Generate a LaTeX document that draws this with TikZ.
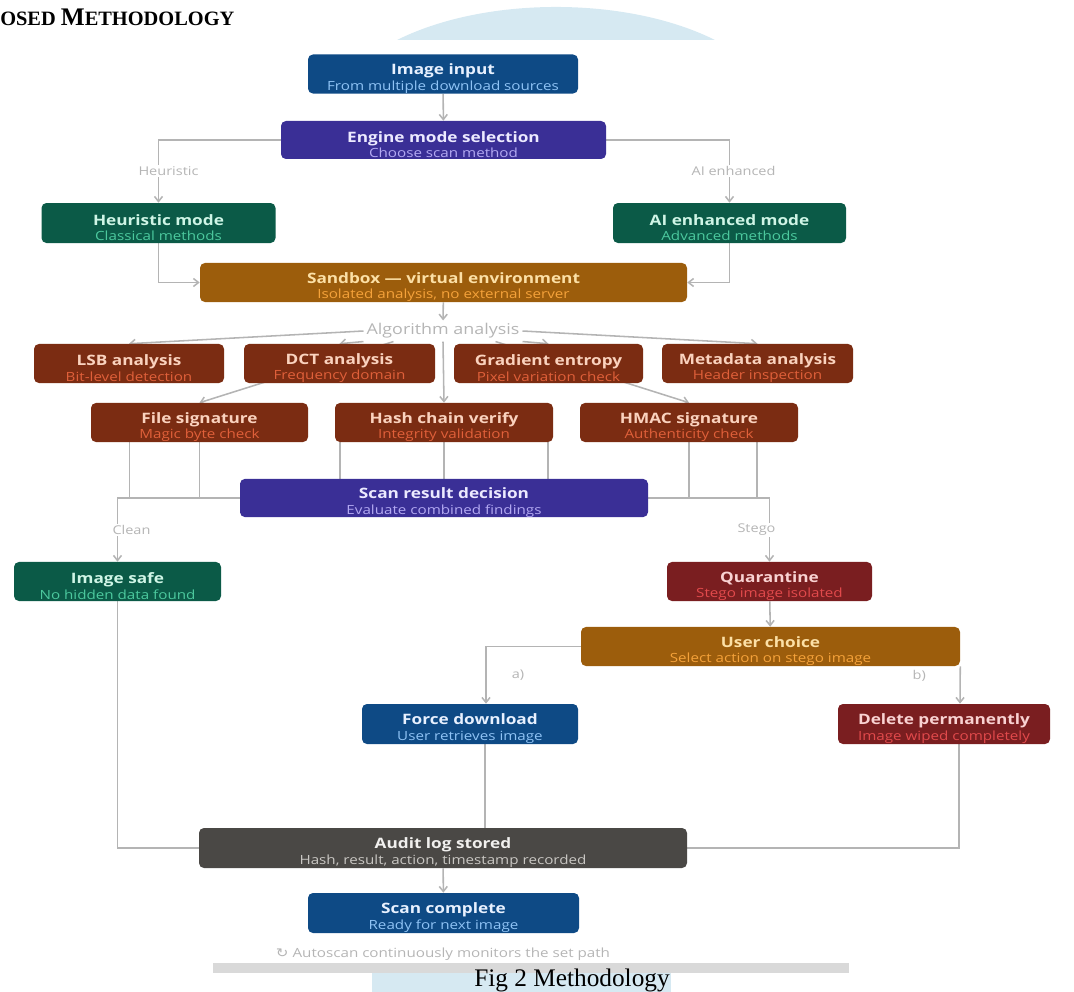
\documentclass[tikz,border=0pt]{standalone}
\usepackage{fontspec}
\usepackage{graphicx}
\setmainfont{Open Sans}
\newfontfamily\serif{Liberation Serif}
\newfontfamily\symfont{DejaVu Sans}
\usetikzlibrary{arrows.meta, backgrounds}

\newdimen\pxu \pxu=0.025cm
\newcommand{\sx}{1.2}
\newcommand{\ttl}[1]{\rule{0pt}{14pt}\scalebox{\sx}[1]{\fontsize{10.2}{10}\selectfont\bfseries #1}}
\newcommand{\subtxt}[2]{\scalebox{\sx}[1]{\color{#1}#2}}

\definecolor{boxblue}{HTML}{0E4A85}
\definecolor{ttlblue}{HTML}{E8F1FF}
\definecolor{subblue}{HTML}{8FC3F5}
\definecolor{boxpurple}{HTML}{3A2F96}
\definecolor{ttlpurple}{HTML}{ECEAFF}
\definecolor{subpurple}{HTML}{B3A9F2}
\definecolor{boxgreen}{HTML}{0B5A47}
\definecolor{ttlgreen}{HTML}{CFF5E6}
\definecolor{subgreen}{HTML}{4CC99E}
\definecolor{boxorange}{HTML}{9C5D0C}
\definecolor{ttlorange}{HTML}{FCE0A6}
\definecolor{suborange}{HTML}{F5A23A}
\definecolor{boxrust}{HTML}{7B2C12}
\definecolor{ttlrust}{HTML}{FAD2BE}
\definecolor{subrust}{HTML}{E0603A}
\definecolor{boxred}{HTML}{7A1E20}
\definecolor{ttlred}{HTML}{F9D2D2}
\definecolor{subred}{HTML}{E24A4C}
\definecolor{boxgray}{HTML}{4A4845}
\definecolor{ttlgray}{HTML}{F1F0EE}
\definecolor{subgray}{HTML}{C9C7C3}
\definecolor{linegray}{HTML}{B4B4B4}
\definecolor{lblgray}{HTML}{B5B5B5}
\definecolor{pageblue}{HTML}{D6E9F2}
\definecolor{bargray}{HTML}{D9D9D9}

\tikzstyle{box}       = [rectangle, rounded corners=3.5pt, minimum height=0.975cm, inner sep=0pt,
                         align=center, font=\fontsize{9}{11}\selectfont]
\tikzstyle{bluebox}   = [box, fill=boxblue, text=ttlblue]
\tikzstyle{purplebox} = [box, fill=boxpurple, text=ttlpurple]
\tikzstyle{greenbox}  = [box, fill=boxgreen, text=ttlgreen]
\tikzstyle{orangebox} = [box, fill=boxorange, text=ttlorange]
\tikzstyle{rustbox}   = [box, fill=boxrust, text=ttlrust]
\tikzstyle{redbox}    = [box, fill=boxred, text=ttlred]
\tikzstyle{graybox}   = [box, fill=boxgray, text=ttlgray]
\tikzstyle{conn}      = [draw=linegray, line width=1.1pt]
\tikzstyle{arrow}     = [conn, -{Straight Barb[length=3.6pt, width=5.7pt]}]
\tikzstyle{lbl}       = [fill=white, text=lblgray, inner sep=1pt, font=\fontsize{8.6}{9}\selectfont]

\begin{document}
\begin{tikzpicture}[x=0.025cm, y=-0.025cm]
    \useasboundingbox (0,0) rectangle (1074,992);

    % page around the figure
    \begin{scope}
        \clip (300,0) rectangle (800,40);
        \fill[pageblue] (556,120) ellipse [x radius=5.625cm, y radius=2.825cm];
    \end{scope}
    \node (hdr) [anchor=base west, inner sep=0pt, font=\serif\bfseries] at (0,26)
        {\fontsize{14.5}{16}\selectfont OSED \fontsize{18}{20}\selectfont M\fontsize{14.5}{16}\selectfont ETHODOLOGY};
    \fill[bargray] (213,963) rectangle (849,973);
    \fill[pageblue] (372,973) rectangle (671,992);
    \node (fig) [anchor=base, inner sep=0pt, font=\serif\fontsize{18}{20}\selectfont] at (572,986) {Fig 2 Methodology};

    % boxes
    \node (input) [bluebox, minimum width=270\pxu] at (443,74) {\ttl{Image input}\\\subtxt{subblue}{From multiple download sources}};
    \node (engine) [purplebox, minimum width=325\pxu, minimum height=38\pxu] at (443.5,140) {\ttl{Engine mode selection}\\\subtxt{subpurple}{Choose scan method}};
    \node (heur) [greenbox, minimum width=234\pxu, minimum height=40\pxu] at (158.5,223) {\ttl{Heuristic mode}\\\subtxt{subgreen}{Classical methods}};
    \node (ai) [greenbox, minimum width=233\pxu, minimum height=40\pxu] at (729.5,223) {\ttl{AI enhanced mode}\\\subtxt{subgreen}{Advanced methods}};
    \node (sandbox) [orangebox, minimum width=487\pxu] at (443.5,282.5) {\ttl{Sandbox --- virtual environment}\\\subtxt{suborange}{Isolated analysis, no external server}};
    \node (alg) [text=lblgray, inner sep=2pt, font=\fontsize{10.6}{11}\selectfont] at (443,331) {\scalebox{\sx}[1]{Algorithm analysis}};

    \node (lsb) [rustbox, minimum width=190\pxu] at (129,363.5) {\ttl{LSB analysis}\\\subtxt{subrust}{Bit-level detection}};
    \node (dct) [rustbox, minimum width=191\pxu] at (339.5,363.5) {\ttl{DCT analysis}\\\subtxt{subrust}{Frequency domain}};
    \node (grad) [rustbox, minimum width=189\pxu] at (548.5,363.5) {\ttl{Gradient entropy}\\\subtxt{subrust}{Pixel variation check}};
    \node (meta) [rustbox, minimum width=191\pxu] at (757.5,363.5) {\ttl{Metadata analysis}\\\subtxt{subrust}{Header inspection}};
    \node (filesig) [rustbox, minimum width=217\pxu] at (199.5,422.5) {\ttl{File signature}\\\subtxt{subrust}{Magic byte check}};
    \node (hash) [rustbox, minimum width=218\pxu] at (444,422.5) {\ttl{Hash chain verify}\\\subtxt{subrust}{Integrity validation}};
    \node (hmac) [rustbox, minimum width=218\pxu] at (689,422.5) {\ttl{HMAC signature}\\\subtxt{subrust}{Authenticity check}};

    \node (decision) [purplebox, minimum width=408\pxu, minimum height=38\pxu] at (444,498) {\ttl{Scan result decision}\\\subtxt{subpurple}{Evaluate combined findings}};
    \node (imgsafe) [greenbox, minimum width=207\pxu] at (117.5,581.5) {\ttl{Image safe}\\\subtxt{subgreen}{No hidden data found}};
    \node (quar) [redbox, minimum width=205\pxu] at (769.5,581.5) {\ttl{Quarantine}\\\subtxt{subred}{Stego image isolated}};
    \node (user) [orangebox, minimum width=379\pxu] at (770.5,646.5) {\ttl{User choice}\\\subtxt{suborange}{Select action on stego image}};
    \node (force) [bluebox, minimum width=216\pxu, minimum height=40\pxu] at (470,724) {\ttl{Force download}\\\subtxt{subblue}{User retrieves image}};
    \node (delete) [redbox, minimum width=212\pxu, minimum height=40\pxu] at (944,724) {\ttl{Delete permanently}\\\subtxt{subred}{Image wiped completely}};
    \node (audit) [graybox, minimum width=488\pxu, minimum height=40\pxu] at (443,848) {\ttl{Audit log stored}\\\subtxt{subgray}{Hash, result, action, timestamp recorded}};
    \node (scan) [bluebox, minimum width=271\pxu, minimum height=40\pxu] at (443.5,913) {\ttl{Scan complete}\\\subtxt{subblue}{Ready for next image}};
    \node (note) [text=lblgray, inner sep=0pt, font=\fontsize{9}{10}\selectfont] at (443,954)
        {\scalebox{\sx}[1]{{\symfont ↻} Autoscan continuously monitors the set path}};

    % connectors
    \begin{scope}[on background layer]
        \draw[arrow] (input) -- (engine);
        \draw[arrow] (engine.west) -| node[lbl, pos=0.75, xshift=10\pxu] {\scalebox{\sx}[1]{Heuristic}} (heur.north);
        \draw[arrow] (engine.east) -| node[lbl, pos=0.75, xshift=4\pxu] {\scalebox{\sx}[1]{AI enhanced}} (ai.north);
        \draw[arrow] (heur.south) |- (sandbox.west);
        \draw[arrow] (ai.south) |- (sandbox.east);
        \draw[arrow] (sandbox) -- (alg);

        \draw[arrow] (alg.west) -- (lsb.north);
        \draw[arrow] (alg.south west) -- (dct.north);
        \draw[arrow] ([xshift=30\pxu]alg.south west) -- (filesig.north);
        \draw[arrow] (alg.south) -- (hash.north);
        \draw[arrow] (alg.south east) -- (grad.north);
        \draw[arrow] ([xshift=-27\pxu]alg.south east) -- (hmac.north);
        \draw[arrow] (alg.east) -- (meta.north);

        \draw[conn] ([xshift=-70\pxu]filesig.south) |- (decision.west);
        \draw[conn] (filesig.south) |- (decision.west);
        \draw[conn] ([xshift=-104\pxu]hash.south) -- ([xshift=-104\pxu]hash.south |- decision.north);
        \draw[conn] (hash.south) -- (decision.north);
        \draw[conn] ([xshift=104\pxu]hash.south) -- ([xshift=104\pxu]hash.south |- decision.north);
        \draw[conn] (hmac.south) |- (decision.east);
        \draw[conn] ([xshift=68\pxu]hmac.south) |- (decision.east);

        \draw[arrow] (decision.west) -| node[lbl, pos=0.75, xshift=14\pxu] {\scalebox{\sx}[1]{Clean}} (imgsafe.north);
        \draw[arrow] (decision.east) -| node[lbl, pos=0.75, xshift=-13\pxu] {\scalebox{\sx}[1]{Stego}} (quar.north);
        \draw[arrow] (quar) -- (user);
        \draw[arrow] (user.west) -| node[lbl, pos=0.75, xshift=32\pxu] {\scalebox{\sx}[1]{a)}} ([xshift=16\pxu]force.north);
        \draw[arrow] (user.south east) -- node[lbl, pos=0.25, xshift=-41\pxu] {\scalebox{\sx}[1]{b)}} ([xshift=16\pxu]delete.north);

        \draw[conn] (imgsafe.south) |- (audit.west);
        \draw[conn] ([xshift=15\pxu]force.south) -- ([xshift=15\pxu]force.south |- audit.north);
        \draw[conn] ([xshift=15\pxu]delete.south) |- (audit.east);
        \draw[arrow] (audit) -- (scan);
    \end{scope}
\end{tikzpicture}
\end{document}
